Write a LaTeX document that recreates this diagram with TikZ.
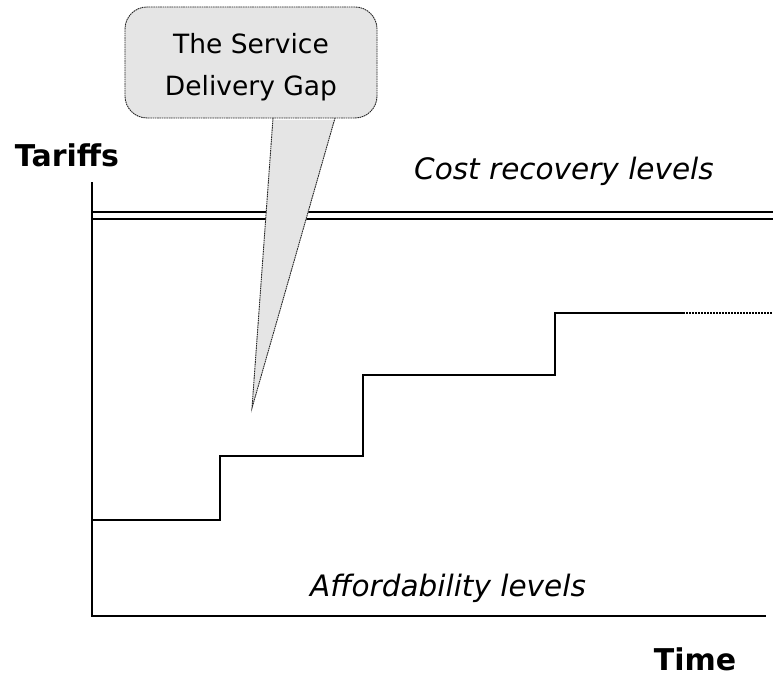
\documentclass[tikz,border=0pt]{standalone}
\usepackage{fontspec}
\setmainfont{DejaVu Sans}
\begin{document}
\begin{tikzpicture}[x=1pt,y=-1pt,
  axisline/.style={line width=2.5pt,line cap=rect},
  levelline/.style={line width=2.1pt},
  calloutbox/.style={draw=black!85,fill=black!10,line width=0.9pt,dash pattern=on 1.6pt off 0.7pt,rounded corners=22pt,minimum width=252pt,minimum height=111pt,inner sep=0pt},
  callouttext/.style={inner sep=0pt,align=center,font=\fontsize{26.5}{42}\selectfont},
  calloutedge/.style={draw=black!85,line width=0.9pt,dash pattern=on 1.6pt off 0.7pt},
  italiclabel/.style={inner sep=0pt,font=\fontsize{29.5}{34}\selectfont\itshape,anchor=base},
  boldlabel/.style={inner sep=0pt,font=\fontsize{30}{34}\selectfont\bfseries,anchor=base}
]
\useasboundingbox (0,0) rectangle (773,679);
% axes
\coordinate (ytop) at (92,183);
\coordinate (origin) at (92,616);
\coordinate (xend) at (765,616);
\draw[axisline] (ytop) -- (origin) -- (xend);
% cost recovery double line
\coordinate (c1a) at (92,212);
\coordinate (c1b) at (773,212);
\coordinate (c2a) at (92,219);
\coordinate (c2b) at (773,219);
\draw[levelline] (c1a) -- (c1b);
\draw[levelline] (c2a) -- (c2b);
% affordability steps
\coordinate (s0) at (92,520);
\coordinate (s1) at (220,520);
\coordinate (s2) at (220,456);
\coordinate (s3) at (363,456);
\coordinate (s4) at (363,375);
\coordinate (s5) at (555,375);
\coordinate (s6) at (555,313);
\coordinate (s7) at (683,313);
\coordinate (s8) at (773,313);
\draw[levelline] (s0) -- (s1) -- (s2) -- (s3) -- (s4) -- (s5) -- (s6) -- (s7);
\draw[line width=1.3pt,dash pattern=on 2pt off 1pt] (s7) -- (s8);
% callout
\node[calloutbox] (gap) at (251,62.5) {};
\node[callouttext] (gaptext) at (251,67) {The Service\\Delivery Gap};
\coordinate (pa) at (273,118);
\coordinate (pb) at (335,118);
\coordinate (tip) at (252,408);
\fill[black!10] ([yshift=-1.8pt]pa) -- ([yshift=-1.8pt]pb) -- (tip) -- cycle;
\draw[calloutedge] (pa) -- (tip) -- (pb);
% labels
\node[boldlabel] (tariffs) at (67,167) {Tariffs};
\node[boldlabel] (time) at (695,670) {Time};
\node[italiclabel] (cost) at (564,179) {Cost recovery levels};
\node[italiclabel] (afford) at (448,596) {Affordability levels};
\end{tikzpicture}
\end{document}
